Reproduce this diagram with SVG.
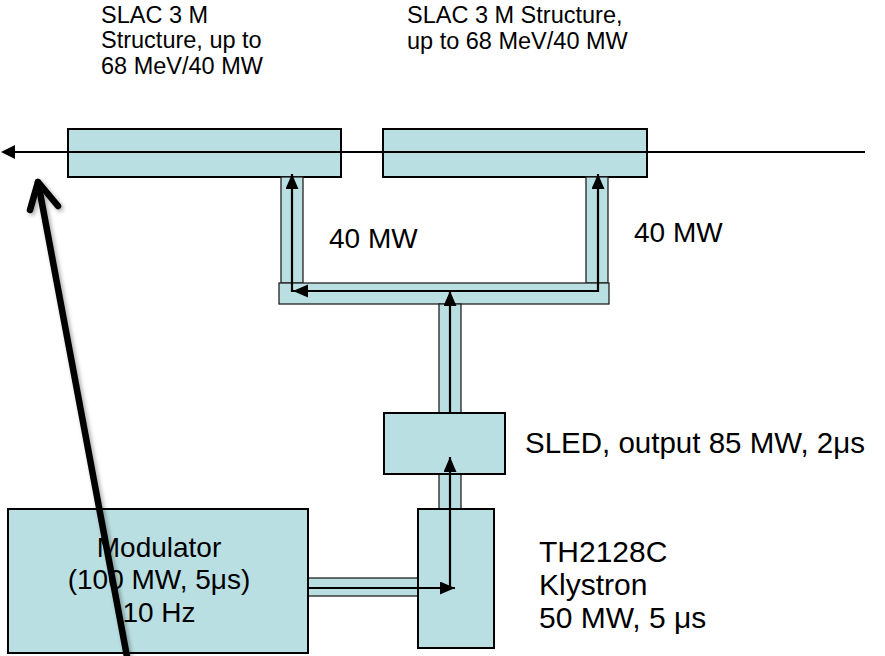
<svg xmlns="http://www.w3.org/2000/svg" width="885" height="656" viewBox="0 0 885 656">
  <style>
    .box { fill: #badfe3; stroke: #000; stroke-width: 2; }
    .wg { fill: #badfe3; stroke: #222; stroke-width: 1.3; }
    .flow { fill: none; stroke: #000; stroke-width: 2.2; }
    .lbl { font-family: "Liberation Sans", Arial, sans-serif; fill: #000; }
    .small { font-size: 23.5px; }
    .big { font-size: 28px; }
    .kly { font-size: 30px; }
  </style>
  <defs>
    <marker id="ah" markerUnits="userSpaceOnUse" markerWidth="16" markerHeight="14" refX="15" refY="6.5" orient="auto">
      <path d="M0,0 L15,6.5 L0,13 z" fill="#000"/>
    </marker>
    <filter id="sh" x="-20%" y="-5%" width="140%" height="110%">
      <feDropShadow dx="2" dy="2" stdDeviation="2" flood-color="#000" flood-opacity="0.35"/>
    </filter>
  </defs>

  <g id="structure-left">
    <rect class="box" x="68" y="129" width="273" height="48"/>
  </g>
  <g id="structure-right">
    <rect class="box" x="383" y="129" width="264" height="48"/>
  </g>

  <g id="waveguides">
    <rect class="wg" x="281" y="177" width="22" height="106"/>
    <rect class="wg" x="586" y="177" width="22" height="106"/>
    <rect class="wg" x="279" y="283" width="330" height="21"/>
    <rect class="wg" x="439" y="304" width="22" height="109"/>
    <rect class="wg" x="439" y="474" width="22" height="35"/>
    <rect class="wg" x="308" y="578" width="110" height="18"/>
  </g>

  <g id="sled">
    <rect class="box" x="384" y="413" width="121" height="61"/>
  </g>
  <g id="klystron">
    <rect class="box" x="418" y="509" width="76" height="139"/>
  </g>
  <g id="modulator">
    <rect class="box" x="8" y="509" width="300" height="144"/>
    <text class="lbl big" x="159" y="557" text-anchor="middle">Modulator</text>
    <text class="lbl big" x="159" y="589" text-anchor="middle">(100 MW, 5μs)</text>
    <text class="lbl big" x="159" y="622" text-anchor="middle">10 Hz</text>
  </g>

  <g id="connectors">
    <line class="flow" x1="14" y1="152" x2="865" y2="152"/>
    <path d="M1,152 L15,145 L15,159 z" fill="#000"/>
    <line class="flow" x1="309" y1="588" x2="455" y2="588" marker-end="url(#ah)"/>
    <line class="flow" x1="450" y1="588" x2="450" y2="457" marker-end="url(#ah)"/>
    <line class="flow" x1="450" y1="413" x2="450" y2="291" marker-end="url(#ah)"/>
    <line class="flow" x1="598" y1="291" x2="293" y2="291" marker-end="url(#ah)"/>
    <line class="flow" x1="598" y1="292" x2="598" y2="174" marker-end="url(#ah)"/>
    <line class="flow" x1="292" y1="292" x2="292" y2="174" marker-end="url(#ah)"/>
  </g>

  <g id="labels">
    <text class="lbl small" x="101" y="23">SLAC 3 M</text>
    <text class="lbl small" x="101" y="48">Structure, up to</text>
    <text class="lbl small" x="101" y="74">68 MeV/40 MW</text>
    <text class="lbl small" x="407" y="23">SLAC 3 M Structure,</text>
    <text class="lbl small" x="407" y="49">up to 68 MeV/40 MW</text>
    <text class="lbl big" x="329" y="248">40 MW</text>
    <text class="lbl big" x="634" y="242">40 MW</text>
    <text class="lbl" font-size="29.5" x="525" y="453">SLED, output 85 MW, 2μs</text>
    <text class="lbl kly" x="539" y="562">TH2128C</text>
    <text class="lbl kly" x="539" y="595">Klystron</text>
    <text class="lbl kly" x="539" y="628">50 MW, 5 μs</text>
  </g>

  <g id="pointer" filter="url(#sh)">
    <path d="M38,182 L128,662" fill="none" stroke="#000" stroke-width="6.5" stroke-linecap="round"/>
    <path d="M30,210 L38,182 L58,206" fill="none" stroke="#000" stroke-width="6.5" stroke-linecap="round" stroke-linejoin="round"/>
  </g>
</svg>
